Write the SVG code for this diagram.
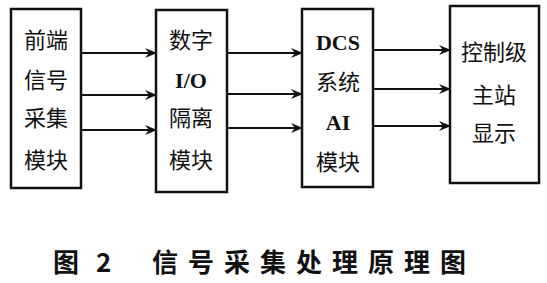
<svg xmlns="http://www.w3.org/2000/svg" width="547" height="283" viewBox="0 0 547 283">
<defs>
<marker id="ah" viewBox="0 0 12 10" refX="11" refY="5" markerWidth="12" markerHeight="10" markerUnits="userSpaceOnUse" orient="auto">
<path d="M0,0 L12,5 L0,10 L4,5 Z" fill="#111"/>
</marker>
</defs>
<style>
.box{fill:#fff;stroke:#111;stroke-width:2.5}
.t{font-family:"Liberation Serif","Noto Sans CJK SC",serif;font-size:22px;fill:#111;text-anchor:middle;dominant-baseline:central}
.lat{font-weight:bold}
.cap{font-family:"Noto Sans CJK SC",sans-serif;font-size:26px;fill:#111;dominant-baseline:central;font-weight:bold}
.c line{stroke:#111;stroke-width:2.2;marker-end:url(#ah)}
</style>
<rect width="547" height="283" fill="#fff"/>
<g id="n1">
<rect class="box" x="11" y="9" width="70" height="179"/>
<text class="t" x="46" y="40">前端</text>
<text class="t" x="46" y="80">信号</text>
<text class="t" x="46" y="118">采集</text>
<text class="t" x="46" y="160">模块</text>
</g>
<g id="n2">
<rect class="box" x="156" y="10" width="71" height="182"/>
<text class="t" x="191" y="40">数字</text>
<text class="t lat" x="191" y="80">I/O</text>
<text class="t" x="191" y="118">隔离</text>
<text class="t" x="191" y="160">模块</text>
</g>
<g id="n3">
<rect class="box" x="302" y="9" width="71" height="178"/>
<text class="t lat" x="338" y="42">DCS</text>
<text class="t" x="338" y="82">系统</text>
<text class="t lat" x="338" y="122">AI</text>
<text class="t" x="338" y="162">模块</text>
</g>
<g id="n4">
<rect class="box" x="450" y="6" width="89" height="177"/>
<text class="t" x="494" y="52">控制级</text>
<text class="t" x="494" y="95">主站</text>
<text class="t" x="494" y="133">显示</text>
</g>
<g class="c" id="connectors">
<line x1="81" y1="53" x2="156" y2="53"/>
<line x1="81" y1="95" x2="156" y2="95"/>
<line x1="81" y1="130" x2="156" y2="130"/>
<line x1="227" y1="53" x2="302" y2="53"/>
<line x1="227" y1="94" x2="302" y2="94"/>
<line x1="227" y1="128" x2="302" y2="128"/>
<line x1="373" y1="50" x2="450" y2="50"/>
<line x1="373" y1="89" x2="450" y2="89"/>
<line x1="373" y1="126" x2="450" y2="126"/>
</g>
<text class="cap" x="53" y="260">图</text>
<text class="cap" x="96" y="260" font-family="Liberation Mono,monospace" font-weight="normal">2</text>
<text class="cap" x="152" y="260" letter-spacing="10">信号采集处理原理图</text>
</svg>
